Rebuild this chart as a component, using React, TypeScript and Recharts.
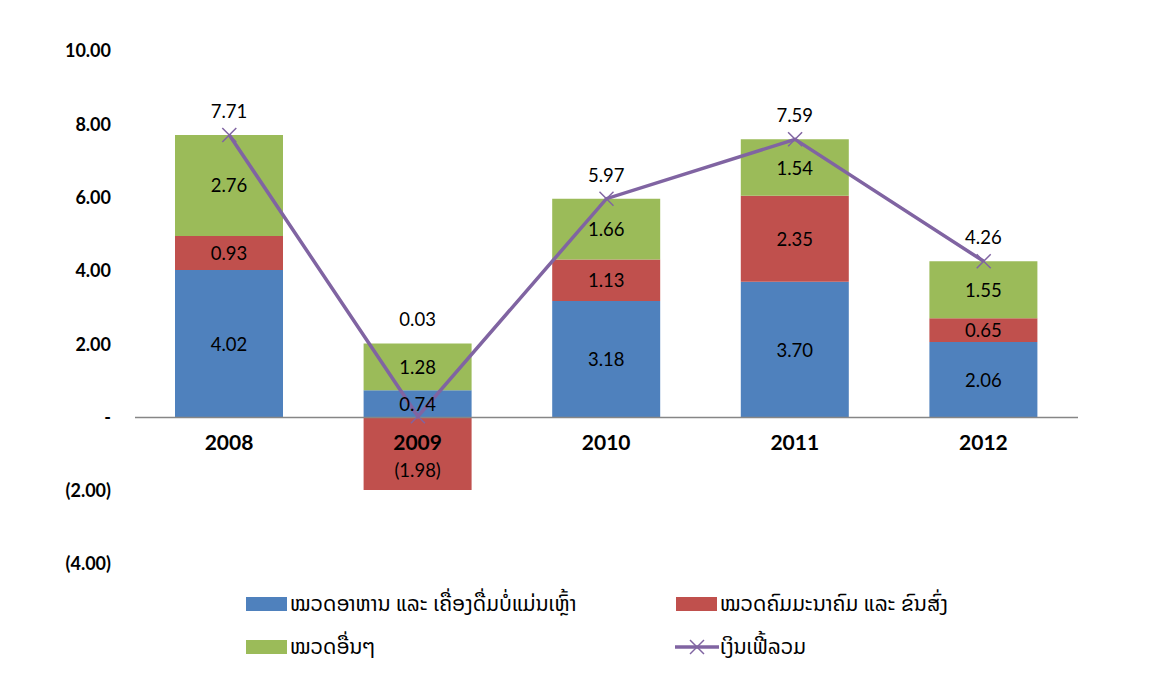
import React from "react";
import {
  ComposedChart,
  Bar,
  Line,
  XAxis,
  YAxis,
  ReferenceLine,
  LabelList,
} from "recharts";

const years = ["2008", "2009", "2010", "2011", "2012"];
const food = [4.02, 0.74, 3.18, 3.7, 2.06];
const transport = [0.93, -1.98, 1.13, 2.35, 0.65];
const others = [2.76, 1.28, 1.66, 1.54, 1.55];
const total = [7.71, 0.03, 5.97, 7.59, 4.26];
const yTicks = [-4, -2, 0, 2, 4, 6, 8, 10];

const seriesNames = [
  "ໝວດອາຫານ ແລະ ເຄື່ອງດື່ມບໍ່ແມ່ນເຫຼົ້າ",
  "ໝວດຄົມມະນາຄົມ ແລະ ຂົນສົ່ງ",
  "ໝວດອື່ນໆ",
  "ເງິນເຟີ້ລວມ",
];
const colors = ["#4F81BD", "#C0504D", "#9BBB59", "#8064A2"];

const data = years.map((y, i) => ({
  year: y,
  food: food[i],
  transport: transport[i],
  others: others[i],
  total: total[i],
}));

const FONT = "Lato, 'DejaVu Sans', sans-serif";
const LAO_FONT = "'Noto Sans Lao', 'DejaVu Sans', sans-serif";

const fmt = (v: number) => {
  if (v === 0) return "-";
  if (v < 0) return `(${Math.abs(v).toFixed(2)})`;
  return v.toFixed(2);
};

const SegLabel = (props: any) => {
  const { x, y, width, height, value } = props;
  const cx = x + width / 2;
  const cy = y + height / 2 + (value < 0 ? 16 : 0);
  return (
    <text
      x={cx}
      y={cy}
      textAnchor="middle"
      dominantBaseline="central"
      fontSize={18.5}
      fontFamily={FONT}
      fill="#000"
    >
      {fmt(value)}
    </text>
  );
};

const XDot = (props: any) => {
  const { cx, cy, index } = props;
  if (cx == null || cy == null) return null;
  const s = 7;
  return (
    <g key={`xd-${index}`}>
      <line x1={cx - s} y1={cy - s} x2={cx + s} y2={cy + s} stroke={colors[3]} strokeWidth={1.5} />
      <line x1={cx - s} y1={cy + s} x2={cx + s} y2={cy - s} stroke={colors[3]} strokeWidth={1.5} />
    </g>
  );
};

const LegendItem = ({ i }: { i: number }) => (
  <div style={{ display: "flex", alignItems: "center" }}>
    {i < 3 ? (
      <div style={{ width: 41, height: 14, background: colors[i], marginRight: 3 }} />
    ) : (
      <svg width={44} height={16} style={{ marginRight: 1 }}>
        <line x1={0} y1={8} x2={44} y2={8} stroke={colors[3]} strokeWidth={3.5} />
        <line x1={15} y1={1} x2={29} y2={15} stroke={colors[3]} strokeWidth={1.5} />
        <line x1={15} y1={15} x2={29} y2={1} stroke={colors[3]} strokeWidth={1.5} />
      </svg>
    )}
    <span style={{ fontSize: 21, fontFamily: LAO_FONT, color: "#000", whiteSpace: "nowrap", lineHeight: "26px" }}>
      {seriesNames[i]}
    </span>
  </div>
);

export default function App() {
  return (
    <div style={{ position: "relative", width: 1150, height: 692, margin: -8, background: "#fff", overflow: "hidden" }}>
      <div
        style={{
          position: "absolute",
          left: 5,
          top: 5,
          width: 1200,
          height: 800,
          borderTop: "2px solid #a6a6a6",
          borderLeft: "2px solid #a6a6a6",
        }}
      />
      <div style={{ position: "absolute", left: 0, top: 0 }}>
        <ComposedChart
          width={1150}
          height={692}
          data={data}
          stackOffset="sign"
          margin={{ top: 51, right: 72, bottom: 128, left: 8 }}
        >
          <XAxis dataKey="year" hide />
          <YAxis
            width={127}
            domain={[-4, 10]}
            ticks={yTicks}
            axisLine={false}
            tickLine={false}
            tickMargin={18}
            tickFormatter={fmt}
            tick={{ fontSize: 18, fontWeight: 700, fill: "#000", fontFamily: FONT }}
          />
          <ReferenceLine y={0} stroke="#868686" strokeWidth={1.5} />
          <Bar dataKey="food" stackId="a" barSize={108} fill={colors[0]} isAnimationActive={false}>
            <LabelList dataKey="food" content={SegLabel} />
            <LabelList
              dataKey="year"
              position="bottom"
              offset={18}
              style={{ fontSize: 21, fontWeight: 700, fill: "#000", fontFamily: FONT }}
            />
          </Bar>
          <Bar dataKey="transport" stackId="a" barSize={108} fill={colors[1]} isAnimationActive={false}>
            <LabelList dataKey="transport" content={SegLabel} />
          </Bar>
          <Bar dataKey="others" stackId="a" barSize={108} fill={colors[2]} isAnimationActive={false}>
            <LabelList dataKey="others" content={SegLabel} />
            <LabelList
              dataKey="total"
              position="top"
              offset={17}
              formatter={(v: any) => fmt(Number(v))}
              style={{ fontSize: 18.5, fill: "#000", fontFamily: FONT }}
            />
          </Bar>
          <Line
            dataKey="total"
            stroke={colors[3]}
            strokeWidth={3.5}
            dot={XDot}
            activeDot={false}
            isAnimationActive={false}
          />
        </ComposedChart>
      </div>
      <div style={{ position: "absolute", left: 246, top: 591 }}>
        <LegendItem i={0} />
      </div>
      <div style={{ position: "absolute", left: 676, top: 591 }}>
        <LegendItem i={1} />
      </div>
      <div style={{ position: "absolute", left: 246, top: 634 }}>
        <LegendItem i={2} />
      </div>
      <div style={{ position: "absolute", left: 675, top: 634 }}>
        <LegendItem i={3} />
      </div>
    </div>
  );
}
